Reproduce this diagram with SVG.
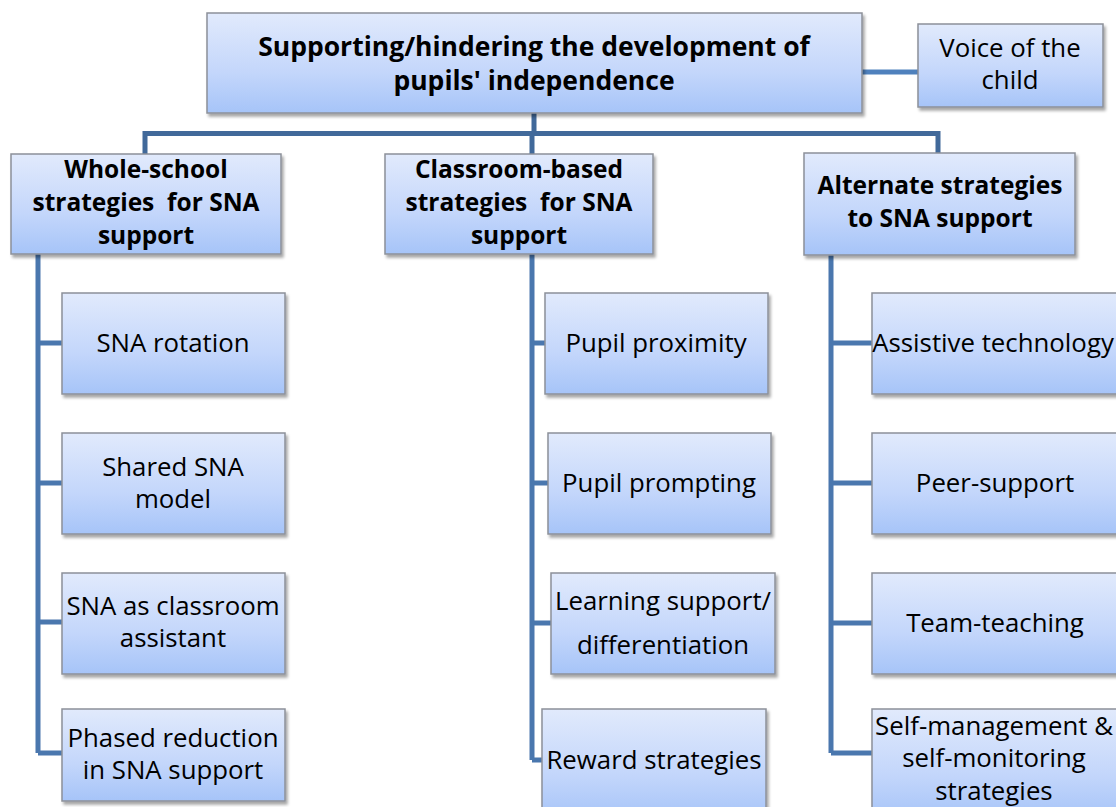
<svg xmlns="http://www.w3.org/2000/svg" width="1116" height="807" viewBox="0 0 1116 807">
<defs>
<linearGradient id="g" x1="0" y1="0" x2="0" y2="1">
<stop offset="0" stop-color="#E1EAFC"/>
<stop offset="0.6" stop-color="#C3D6FB"/>
<stop offset="1" stop-color="#A6C4F8"/>
</linearGradient>
<filter id="sh" x="-10%" y="-10%" width="125%" height="130%">
<feDropShadow dx="2" dy="3" stdDeviation="1.8" flood-color="#000" flood-opacity="0.35"/>
</filter>
<style>
.box{fill:url(#g);stroke:#8C9099;stroke-width:1.5;filter:url(#sh)}
text{font-family:"Open Sans","Lato","Liberation Sans",sans-serif;font-size:25.8px;fill:#000;text-anchor:middle}
.b{font-weight:bold;font-size:24.5px}
.t{font-weight:bold;font-size:26.5px}
.bus{stroke:#41699A;stroke-width:5;fill:none}
.sp{stroke:#4A77AE;stroke-width:5;fill:none}
.vc{stroke:#4F81BD;stroke-width:5;fill:none}
</style>
</defs>
<rect width="1116" height="807" fill="#fff"/>
<g id="connectors">
<path class="bus" d="M534,113 V133.5 M145,154 V133.5 H938 V153 M532,133.5 V154"/>
<path class="vc" d="M862,72 H918"/>
<path class="sp" d="M38,254 V753 M38,343 H62 M38,483 H62 M38,622 H62 M38,753 H62"/>
<path class="sp" d="M532,254 V760 M532,343 H545 M532,483 H548 M532,623 H551 M532,760 H542"/>
<path class="sp" d="M831,255 V753 M831,343 H872 M831,483 H872 M831,623 H872 M831,753 H872"/>
</g>
<g id="root"><rect class="box" x="207" y="13" width="655" height="100"/>
<text class="t" x="534" y="56">Supporting/hindering the development of</text>
<text class="t" x="534" y="90">pupils' independence</text></g>
<g id="voice"><rect class="box" x="918" y="24" width="185" height="83"/>
<text x="1010" y="57">Voice of the</text><text x="1010" y="89">child</text></g>
<g id="whole"><rect class="box" x="11" y="154" width="270" height="100"/>
<text class="b" x="146" y="178">Whole-school</text>
<text class="b" x="146" y="211" xml:space="preserve">strategies  for SNA</text>
<text class="b" x="146" y="244">support</text></g>
<g id="classroom"><rect class="box" x="385" y="154" width="268" height="100"/>
<text class="b" x="519" y="178">Classroom-based</text>
<text class="b" x="519" y="211" xml:space="preserve">strategies  for SNA</text>
<text class="b" x="519" y="244">support</text></g>
<g id="alternate"><rect class="box" x="804" y="153" width="271" height="102"/>
<text class="b" x="940" y="194">Alternate strategies</text>
<text class="b" x="940" y="227">to SNA support</text></g>
<g id="sna-rotation"><rect class="box" x="62" y="293" width="223" height="101"/>
<text x="173" y="352">SNA rotation</text></g>
<g id="shared"><rect class="box" x="62" y="433" width="223" height="101"/>
<text x="173" y="476">Shared SNA</text><text x="173" y="508">model</text></g>
<g id="classroom-assistant"><rect class="box" x="62" y="573" width="223" height="101"/>
<text x="173" y="615">SNA as classroom</text><text x="173" y="647">assistant</text></g>
<g id="phased"><rect class="box" x="62" y="709" width="223" height="92"/>
<text x="173" y="747">Phased reduction</text><text x="173" y="779">in SNA support</text></g>
<g id="proximity"><rect class="box" x="545" y="293" width="223" height="101"/>
<text x="656" y="352">Pupil proximity</text></g>
<g id="prompting"><rect class="box" x="548" y="433" width="223" height="101"/>
<text x="659" y="492">Pupil prompting</text></g>
<g id="learning"><rect class="box" x="551" y="573" width="224" height="101"/>
<text x="663" y="610">Learning support/</text><text x="663" y="654">differentiation</text></g>
<g id="reward"><rect class="box" x="542" y="709" width="224" height="110"/>
<text x="654" y="769">Reward strategies</text></g>
<g id="assistive"><rect class="box" x="872" y="293" width="250" height="101"/>
<text x="993" y="352">Assistive technology</text></g>
<g id="peer"><rect class="box" x="872" y="433" width="250" height="101"/>
<text x="995" y="492">Peer-support</text></g>
<g id="team"><rect class="box" x="872" y="573" width="250" height="101"/>
<text x="995" y="632">Team-teaching</text></g>
<g id="self"><rect class="box" x="872" y="709" width="250" height="110"/>
<text x="994" y="735">Self-management &amp;</text><text x="994" y="767">self-monitoring</text><text x="994" y="800">strategies</text></g>
</svg>
